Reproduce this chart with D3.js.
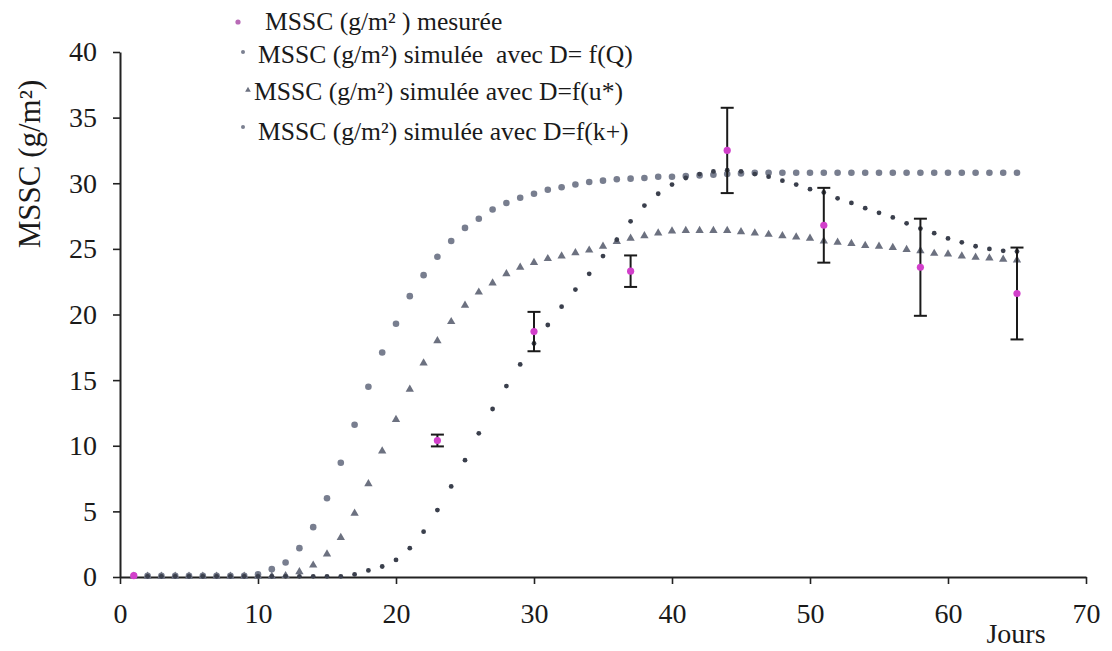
<!DOCTYPE html>
<html>
<head>
<meta charset="utf-8">
<title>MSSC</title>
<script src="https://d3js.org/d3.v7.min.js"></script>
<style>
  body { margin: 0; background: #fff; }
</style>
</head>
<body>
<svg width="1112" height="651"></svg>
<script>
    const width = 1112;
    const height = 651;
    const serif = "'Liberation Serif', 'Times New Roman', Times, 'DejaVu Serif', serif";

    // simulated series, one value per day (1..65)
    const days = d3.range(1, 66);
    const simQ = [0.1, 0.1, 0.1, 0.1, 0.1, 0.1, 0.1, 0.1, 0.1, 0.2,
        0.6, 1.1, 2.2, 3.8, 6.0, 8.7, 11.6, 14.5, 17.1, 19.3,
        21.4, 23.0, 24.4, 25.6, 26.6, 27.3, 28.0, 28.5, 28.9, 29.2,
        29.5, 29.7, 29.9, 30.1, 30.2, 30.3, 30.35, 30.4, 30.5, 30.5,
        30.55, 30.6, 30.65, 30.7, 30.75, 30.8, 30.8, 30.8, 30.8, 30.8,
        30.8, 30.8, 30.8, 30.8, 30.8, 30.8, 30.8, 30.8, 30.8, 30.8,
        30.8, 30.8, 30.8, 30.8, 30.8];
    const simU = [0.05, 0.05, 0.05, 0.05, 0.05, 0.05, 0.05, 0.05, 0.05, 0.05,
        0.05, 0.1, 0.4, 0.9, 1.75, 3.0, 4.85, 7.1, 9.6, 12.0,
        14.3, 16.3, 18.0, 19.45, 20.7, 21.7, 22.4, 23.1, 23.6, 23.95,
        24.25, 24.45, 24.7, 24.9, 25.2, 25.55, 25.8, 26.0, 26.2, 26.35,
        26.4, 26.4, 26.4, 26.4, 26.3, 26.2, 26.1, 26.0, 25.9, 25.8,
        25.6, 25.5, 25.4, 25.25, 25.2, 25.1, 24.95, 24.85, 24.65, 24.6,
        24.45, 24.35, 24.3, 24.2, 24.15];
    const simK = [0.05, 0.05, 0.05, 0.05, 0.05, 0.05, 0.05, 0.05, 0.05, 0.05,
        0.05, 0.05, 0.05, 0.05, 0.05, 0.05, 0.2, 0.5, 0.8, 1.3,
        2.2, 3.45, 5.1, 6.9, 8.9, 10.95, 12.8, 14.55, 16.2, 17.8,
        19.2, 20.6, 21.9, 23.1, 24.45, 25.7, 27.1, 28.3, 29.2, 29.9,
        30.4, 30.7, 30.9, 31.0, 30.9, 30.7, 30.5, 30.2, 29.9, 29.55,
        29.3, 28.85, 28.5, 28.1, 27.75, 27.4, 26.95, 26.55, 26.2, 25.8,
        25.5, 25.2, 25.0, 24.85, 24.8];

    // measured values with error bars
    const measDays = [1, 23, 30, 37, 44, 51, 58, 65];
    const measVals = [0.1, 10.4, 18.7, 23.3, 32.5, 26.8, 23.6, 21.6];
    const measErr = [0, 0.45, 1.5, 1.2, 3.25, 2.85, 3.7, 3.5];

    const xTicks = [0, 10, 20, 30, 40, 50, 60, 70];
    const yTicks = [0, 5, 10, 15, 20, 25, 30, 35, 40];

    const legendLabels = [
        "MSSC (g/m\u00b2 ) mesur\u00e9e",
        "MSSC (g/m\u00b2) simul\u00e9e\u00a0 avec D= f(Q)",
        "MSSC (g/m\u00b2) simul\u00e9e avec D=f(u*)",
        "MSSC (g/m\u00b2) simul\u00e9e avec D=f(k+)"
    ];

    const svg = d3.select("svg").style("font-family", serif);

    const x = d3.scaleLinear().domain([0, 70]).range([120, 1086]);
    const y = d3.scaleLinear().domain([0, 40]).range([577, 52]);

    // axes
    const xAxis = svg.append("g")
        .attr("transform", `translate(0,${y(0)})`)
        .call(d3.axisBottom(x).tickValues(xTicks).tickSize(7).tickSizeOuter(0).tickPadding(19));
    const yAxis = svg.append("g")
        .attr("transform", `translate(${x(0)},0)`)
        .call(d3.axisLeft(y).tickValues(yTicks).tickSize(7).tickSizeOuter(0).tickPadding(16));

    [xAxis, yAxis].forEach(g => {
        g.attr("font-family", serif).attr("font-size", null);
        g.select(".domain").attr("stroke", "#222").attr("stroke-width", 2);
        g.selectAll(".tick line").attr("stroke", "#222").attr("stroke-width", 1.6);
        g.selectAll(".tick text")
            .style("font-family", serif)
            .style("font-size", "28px")
            .attr("fill", "#1a1a1a");
    });

    svg.append("text")
        .attr("x", 1016)
        .attr("y", 643)
        .attr("text-anchor", "middle")
        .style("font-family", serif)
        .style("font-size", "28px")
        .attr("fill", "#1a1a1a")
        .text("Jours");

    svg.append("text")
        .attr("transform", "translate(40,164) rotate(-90)")
        .attr("text-anchor", "middle")
        .style("font-family", serif)
        .style("font-size", "31px")
        .attr("fill", "#1a1a1a")
        .text("MSSC (g/m\u00b2)");

    // simulated series
    const seriesQ = days.map((d, i) => ({ day: d, v: simQ[i] }));
    const seriesU = days.map((d, i) => ({ day: d, v: simU[i] }));
    const seriesK = days.map((d, i) => ({ day: d, v: simK[i] }));

    svg.append("g").selectAll("circle")
        .data(seriesQ)
        .join("circle")
        .attr("cx", d => x(d.day))
        .attr("cy", d => y(d.v))
        .attr("r", 3.3)
        .attr("fill", "#787e8f");

    const tri = d3.symbol().type(d3.symbolTriangle).size(30);
    svg.append("g").selectAll("path")
        .data(seriesU)
        .join("path")
        .attr("d", tri)
        .attr("transform", d => `translate(${x(d.day)},${y(d.v)})`)
        .attr("fill", "#6c7180");

    svg.append("g").selectAll("circle")
        .data(seriesK)
        .join("circle")
        .attr("cx", d => x(d.day))
        .attr("cy", d => y(d.v))
        .attr("r", 2.4)
        .attr("fill", "#3a3f4c");

    // measured with error bars
    const meas = measDays.map((d, i) => ({ day: d, v: measVals[i], e: measErr[i] }));
    const bars = svg.append("g").selectAll("g")
        .data(meas.filter(d => d.e > 0))
        .join("g")
        .attr("stroke", "#1a1a1a")
        .attr("stroke-width", 2);
    bars.append("line")
        .attr("x1", d => x(d.day)).attr("x2", d => x(d.day))
        .attr("y1", d => y(d.v + d.e)).attr("y2", d => y(d.v - d.e));
    bars.append("line")
        .attr("x1", d => x(d.day) - 6.5).attr("x2", d => x(d.day) + 6.5)
        .attr("y1", d => y(d.v + d.e)).attr("y2", d => y(d.v + d.e));
    bars.append("line")
        .attr("x1", d => x(d.day) - 6.5).attr("x2", d => x(d.day) + 6.5)
        .attr("y1", d => y(d.v - d.e)).attr("y2", d => y(d.v - d.e));

    svg.append("g").selectAll("circle")
        .data(meas)
        .join("circle")
        .attr("cx", d => x(d.day))
        .attr("cy", d => y(d.v))
        .attr("r", 3.6)
        .attr("fill", "#d23fcb");

    // legend
    const legendRows = [
        { label: legendLabels[0], mx: 238, my: 22, tx: 265, ty: 30, kind: "meas" },
        { label: legendLabels[1], mx: 243, my: 52, tx: 258, ty: 63, kind: "q" },
        { label: legendLabels[2], mx: 248, my: 90, tx: 254, ty: 100, kind: "u" },
        { label: legendLabels[3], mx: 243, my: 127, tx: 258, ty: 140, kind: "k" }
    ];
    const legend = svg.append("g");
    legendRows.forEach(r => {
        if (r.kind === "u") {
            legend.append("path")
                .attr("d", d3.symbol().type(d3.symbolTriangle).size(14))
                .attr("transform", `translate(${r.mx},${r.my})`)
                .attr("fill", "#6c7180");
        } else {
            legend.append("circle")
                .attr("cx", r.mx).attr("cy", r.my)
                .attr("r", r.kind === "meas" ? 2.6 : 2)
                .attr("fill", r.kind === "meas" ? "#b86ab6" : "#7b8090");
        }
        legend.append("text")
            .attr("x", r.tx)
            .attr("y", r.ty)
            .style("font-family", serif)
            .style("font-size", "25.6px")
            .attr("fill", "#1a1a1a")
            .text(r.label);
    });
</script>
</body>
</html>
